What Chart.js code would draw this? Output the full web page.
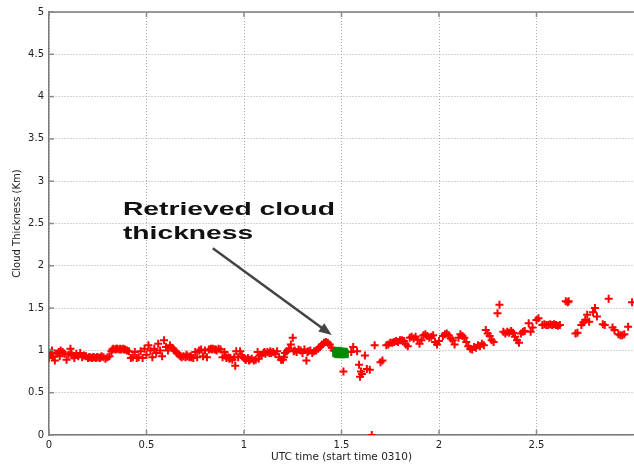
<!DOCTYPE html>
<html>
<head>
<meta charset="utf-8">
<script src="https://cdn.jsdelivr.net/npm/chart.js@4/dist/chart.umd.min.js"></script>
<style>
html,body{margin:0;padding:0;background:#fff;}
#wrap{width:634px;height:466px;position:relative;}
</style>
</head>
<body>
<div id="wrap"><canvas id="c" width="634" height="466"></canvas></div>
<script>
// ---- data ----
const timeHours = [
 0.00,0.01,0.015,0.02,0.03,0.04,0.05,0.055,0.06,0.07,0.08,0.09,0.10,0.11,0.115,0.12,0.13,0.14,0.15,0.16,0.17,0.18,
 0.19,0.20,0.205,0.21,0.22,0.225,0.23,0.24,0.245,0.25,0.26,0.265,0.27,0.28,0.29,0.30,0.31,
 0.32,0.325,0.33,0.34,0.345,0.35,0.36,0.365,0.37,0.38,0.385,0.39,0.40,0.41,
 0.42,0.43,0.44,0.45,0.46,0.47,0.48,0.49,0.50,
 0.51,0.52,0.53,0.54,0.55,0.56,0.57,0.58,0.59,0.60,0.61,0.62,0.63,0.64,
 0.65,0.655,0.66,0.67,0.675,0.68,0.69,0.70,0.705,0.71,0.72,0.725,0.73,0.74,0.75,
 0.76,0.77,0.78,0.79,0.80,0.81,
 0.82,0.83,0.835,0.84,0.85,0.855,0.86,0.87,0.88,
 0.89,0.90,0.905,0.91,0.92,0.925,0.93,0.94,0.95,0.955,0.96,
 0.97,0.98,0.99,1.00,1.005,1.01,1.02,1.025,1.03,1.04,1.05,1.06,1.07,1.075,
 1.08,1.09,1.10,1.105,1.11,1.12,1.13,1.135,1.14,1.15,1.16,1.17,
 1.18,1.19,1.20,1.205,1.21,1.22,1.23,1.24,
 1.25,1.255,1.26,1.27,1.28,1.29,1.30,1.31,1.32,1.325,1.33,1.34,1.35,
 1.36,1.37,1.38,1.39,1.40,1.41,1.42,1.43,1.44,1.45,1.46,
 1.51,1.55,1.56,1.58,1.59,1.595,1.60,1.605,1.62,1.63,1.645,1.655,1.67,1.70,1.71,
 1.73,1.74,1.75,1.76,1.77,1.78,1.79,1.80,1.81,1.82,1.83,1.84,1.85,1.86,1.87,1.88,1.89,1.90,
 1.91,1.92,1.93,1.94,1.95,1.96,1.97,1.98,1.99,2.00,2.02,2.03,2.04,2.05,2.06,2.07,2.08,
 2.10,2.11,2.12,2.13,2.14,2.15,2.16,2.17,2.18,2.19,2.20,2.21,2.22,2.23,2.24,2.25,2.26,2.27,2.28,
 2.30,2.31,2.33,2.34,2.35,2.36,2.37,2.38,2.39,2.40,2.41,2.42,2.43,2.44,2.46,2.47,2.48,2.50,2.51,
 2.53,2.54,2.55,2.56,2.57,2.58,2.59,2.60,2.61,2.62,2.65,2.66,2.665,2.70,2.71,2.73,2.74,2.75,2.76,
 2.77,2.79,2.80,2.81,2.84,2.85,2.87,2.89,2.90,2.92,2.93,2.94,2.95,2.97,2.99
];
const thicknessKm = [
 0.91,0.97,1.00,0.93,0.88,0.96,0.98,0.93,1.00,0.98,0.96,0.89,0.95,1.02,0.97,0.94,0.91,0.96,0.93,0.97,0.92,0.94,
 0.93,0.91,0.92,0.92,0.91,0.92,0.92,0.91,0.92,0.92,0.91,0.92,0.93,0.92,0.90,0.92,0.93,
 0.99,1.01,1.02,1.01,1.02,1.02,1.01,1.02,1.01,1.02,1.01,1.01,1.00,0.99,
 0.91,0.92,0.98,0.91,0.92,0.99,0.91,1.02,0.95,
 1.06,1.00,0.92,1.02,0.97,1.08,1.00,0.93,1.12,1.04,1.00,1.06,1.03,1.01,
 0.99,0.97,0.96,0.94,0.93,0.92,0.93,0.92,0.95,0.93,0.92,0.93,0.92,0.91,0.98,
 0.92,1.00,1.01,0.93,1.00,0.92,
 1.01,1.02,1.01,1.02,1.01,1.01,1.00,1.02,1.01,
 0.92,0.98,0.93,0.91,0.92,0.90,0.91,0.89,0.92,0.82,0.99,
 0.92,0.99,0.93,0.91,0.90,0.89,0.91,0.88,0.89,0.90,0.88,0.89,0.98,0.90,
 0.94,0.95,0.97,0.98,0.96,0.98,0.97,0.99,0.97,0.98,0.96,0.99,
 0.92,0.89,0.89,0.92,0.97,0.99,1.02,1.07,
 1.15,0.99,1.00,0.98,1.01,1.00,0.97,1.01,0.88,0.98,0.99,1.00,0.97,
 0.99,1.00,1.02,1.04,1.07,1.09,1.10,1.09,1.07,1.03,1.00,
 0.75,0.98,1.04,0.99,0.83,0.69,0.75,0.72,0.94,0.78,0.77,0.00,1.06,0.86,0.88,
 1.06,1.07,1.09,1.09,1.10,1.11,1.10,1.12,1.12,1.11,1.07,1.05,1.15,1.16,1.14,1.16,1.13,1.08,
 1.12,1.18,1.19,1.17,1.15,1.16,1.18,1.10,1.07,1.11,1.17,1.19,1.20,1.18,1.14,1.12,1.07,
 1.15,1.19,1.17,1.15,1.10,1.05,1.02,1.01,1.04,1.03,1.06,1.05,1.08,1.06,1.24,1.20,1.17,1.12,1.10,
 1.44,1.54,1.22,1.20,1.22,1.21,1.23,1.21,1.16,1.12,1.09,1.20,1.22,1.23,1.32,1.22,1.27,1.36,1.38,
 1.30,1.31,1.30,1.30,1.31,1.30,1.31,1.30,1.29,1.30,1.58,1.57,1.58,1.20,1.21,1.30,1.33,1.36,1.42,
 1.34,1.45,1.50,1.40,1.31,1.30,1.61,1.27,1.24,1.19,1.18,1.18,1.19,1.28,1.57
];
const retrievedTime = [1.475,1.485,1.495,1.505,1.515,1.48,1.50,1.51];
const retrievedThickness = [0.97,0.96,0.98,0.97,0.96,0.99,0.96,0.98];
const xTicks = [0,0.5,1,1.5,2,2.5];
const yTicks = [0,0.5,1,1.5,2,2.5,3,3.5,4,4.5,5];
const xTitle = 'UTC time (start time 0310)';
const yTitle = 'Cloud Thickness (Km)';
const noteLines = ['Retrieved cloud','thickness'];
const noteAt = {x:0.379, y:2.60};
const arrowFrom = {x:0.84, y:2.207};
const arrowTo = {x:1.45, y:1.182};

// ---- chart ----
const FONT = '"DejaVu Sans", Verdana, sans-serif';
const NOTE_FONT = '"Liberation Sans", Arial, sans-serif';
const mainPts = timeHours.map((t,i)=>({x:t,y:thicknessKm[i]}));
const greenPts = retrievedTime.map((t,i)=>({x:t,y:retrievedThickness[i]}));

const frame = {
  id:'frame',
  afterDatasetsDraw(chart){
    const {ctx, chartArea:a, scales:{x,y}} = chart;
    ctx.save();
    // top box line
    ctx.strokeStyle='#7a7a7a'; ctx.lineWidth=1.5;
    ctx.beginPath(); ctx.moveTo(a.left,a.top); ctx.lineTo(a.right,a.top); ctx.stroke();
    // inward ticks
    ctx.lineWidth=1.5; ctx.strokeStyle='#8a8a8a';
    xTicks.forEach(v=>{const p=x.getPixelForValue(v);
      ctx.beginPath(); ctx.moveTo(p,a.bottom); ctx.lineTo(p,a.bottom-5);
      ctx.moveTo(p,a.top); ctx.lineTo(p,a.top+5); ctx.stroke();});
    yTicks.forEach(v=>{const p=y.getPixelForValue(v);
      ctx.beginPath(); ctx.moveTo(a.left,p); ctx.lineTo(a.left+5,p); ctx.stroke();});
    // annotation text
    ctx.fillStyle='#111';
    ctx.font='bold 19px '+NOTE_FONT;
    ctx.textBaseline='alphabetic'; ctx.textAlign='left';
    const tx=x.getPixelForValue(noteAt.x), ty=y.getPixelForValue(noteAt.y);
    const w0=ctx.measureText(noteLines[0]).width;
    const sx=212/w0;
    noteLines.forEach((s,i)=>{
      ctx.save(); ctx.translate(tx,ty+i*24); ctx.scale(sx,1); ctx.fillText(s,0,0); ctx.restore();
    });
    // arrow
    const x1=x.getPixelForValue(arrowFrom.x), y1=y.getPixelForValue(arrowFrom.y);
    const x2=x.getPixelForValue(arrowTo.x), y2=y.getPixelForValue(arrowTo.y);
    const ang=Math.atan2(y2-y1,x2-x1);
    ctx.strokeStyle='#444'; ctx.fillStyle='#444'; ctx.lineWidth=2.5;
    ctx.beginPath(); ctx.moveTo(x1,y1);
    ctx.lineTo(x2-9*Math.cos(ang),y2-9*Math.sin(ang)); ctx.stroke();
    ctx.beginPath();
    ctx.moveTo(x2,y2);
    ctx.lineTo(x2-13*Math.cos(ang)+5*Math.sin(ang), y2-13*Math.sin(ang)-5*Math.cos(ang));
    ctx.lineTo(x2-13*Math.cos(ang)-5*Math.sin(ang), y2-13*Math.sin(ang)+5*Math.cos(ang));
    ctx.closePath(); ctx.fill();
    ctx.restore();
  }
};

new Chart(document.getElementById('c'),{
  type:'scatter',
  data:{datasets:[
    {label:'retrieved', data:greenPts, pointStyle:'rect', pointRadius:5.5,
     backgroundColor:'#008a00', borderColor:'#008a00', borderWidth:1, showLine:false},
    {label:'thickness', data:mainPts, pointStyle:'cross', pointRadius:4,
     borderColor:'#ff0000', backgroundColor:'#ff0000', borderWidth:2, showLine:false}
  ]},
  options:{
    responsive:false, animation:false, devicePixelRatio:1,
    layout:{autoPadding:false, padding:{top:12,right:0,left:0,bottom:0}},
    plugins:{legend:{display:false}, tooltip:{enabled:false}},
    scales:{
      x:{type:'linear', min:0, max:3,
        afterBuildTicks:s=>{s.ticks=xTicks.map(v=>({value:v}));},
        afterFit:s=>{s.height=31;},
        ticks:{font:{family:FONT,size:10}, color:'#222', padding:4, maxRotation:0,
          callback:v=>String(v)},
        grid:{color:'#a8a8a8', drawTicks:false, lineWidth:1},
        border:{display:true, color:'#7a7a7a', width:1.5, dash:[1,2]},
        title:{display:true, text:xTitle, font:{family:FONT,size:10.5}, color:'#222', padding:{top:0,bottom:2}}
      },
      y:{type:'linear', min:0, max:5,
        afterBuildTicks:s=>{s.ticks=yTicks.map(v=>({value:v}));},
        afterFit:s=>{s.width=49;},
        ticks:{font:{family:FONT,size:10}, color:'#222', padding:5,
          callback:v=>String(v)},
        grid:{color:'#a8a8a8', drawTicks:false, lineWidth:1},
        border:{display:true, color:'#7a7a7a', width:1.5, dash:[1,2]},
        title:{display:true, text:yTitle, font:{family:FONT,size:10}, color:'#222', padding:{top:11,bottom:0}}
      }
    }
  },
  plugins:[frame]
});
</script>
</body>
</html>
